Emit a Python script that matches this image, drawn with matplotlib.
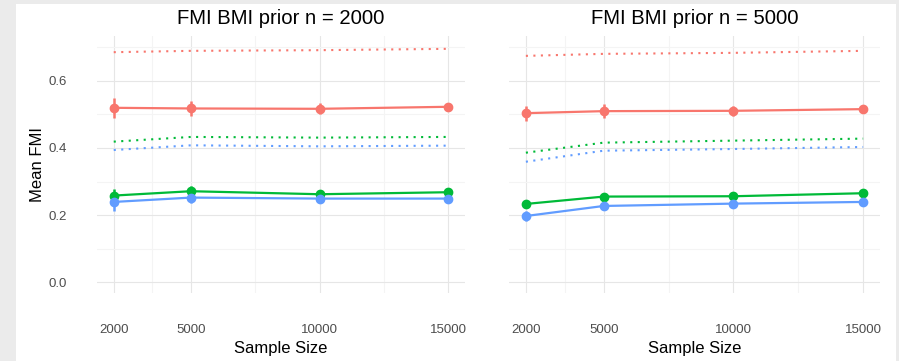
import matplotlib.pyplot as plt
from matplotlib.patches import Rectangle

plt.rcParams['font.family'] = ['Liberation Sans', 'DejaVu Sans']

sample_sizes = [2000, 5000, 10000, 15000]
panel_titles = ['FMI BMI prior n = 2000', 'FMI BMI prior n = 5000']

# solid lines (mean FMI with error bars)
red_solid = [[0.520, 0.518, 0.517, 0.523], [0.504, 0.510, 0.511, 0.516]]
red_err = [[0.029, 0.023, 0.016, 0.012], [0.022, 0.020, 0.014, 0.012]]
green_solid = [[0.258, 0.271, 0.262, 0.268], [0.233, 0.255, 0.256, 0.265]]
green_err = [[0.021, 0.015, 0.008, 0.007], [0.013, 0.008, 0.006, 0.006]]
blue_solid = [[0.239, 0.252, 0.249, 0.249], [0.197, 0.227, 0.234, 0.239]]
blue_err = [[0.026, 0.016, 0.010, 0.008], [0.016, 0.011, 0.008, 0.007]]

# dotted lines
red_dot = [[0.686, 0.690, 0.692, 0.696], [0.675, 0.681, 0.684, 0.690]]
green_dot = [[0.419, 0.433, 0.431, 0.433], [0.386, 0.416, 0.422, 0.428]]
blue_dot = [[0.394, 0.408, 0.405, 0.407], [0.359, 0.392, 0.397, 0.403]]

RED, GREEN, BLUE = '#F8766D', '#00BA38', '#619CFF'

W, H = 899, 361
fig = plt.figure(figsize=(W / 100, H / 100), dpi=100, facecolor='#ebebeb')
fig.patches.append(Rectangle((16 / W, 0), 880 / W, 357 / H, transform=fig.transFigure,
                             facecolor='white', edgecolor='none', zorder=-5))

ax_left = fig.add_axes([97 / W, (H - 293) / H, 368 / W, 257 / H])
ax_right = fig.add_axes([509 / W, (H - 293) / H, 371 / W, 257 / H])

for i, ax in enumerate([ax_left, ax_right]):
    ax.set_facecolor('none')
    for color, vals in [(RED, red_dot), (GREEN, green_dot), (BLUE, blue_dot)]:
        ax.plot(sample_sizes, vals[i], color=color, lw=1.5, linestyle=(0, (1.0, 2.6)),
                dash_capstyle='butt', zorder=3)
    for color, vals, err in [(RED, red_solid, red_err), (GREEN, green_solid, green_err),
                             (BLUE, blue_solid, blue_err)]:
        ax.errorbar(sample_sizes, vals[i], yerr=err[i], color=color, lw=1.6, elinewidth=1.8,
                    marker='o', ms=6, capsize=0, zorder=4)

    ax.set_xlim(1350, 15650)
    ax.set_ylim(-0.0328, 0.7343)
    ax.set_xticks(sample_sizes)
    ax.set_xticks([3500, 7500, 12500], minor=True)
    ax.set_yticks([0.0, 0.2, 0.4, 0.6])
    ax.set_yticks([0.1, 0.3, 0.5, 0.7], minor=True)
    ax.set_yticklabels(['0.0', '0.2', '0.4', '0.6'])
    ax.grid(True, which='major', color='#e6e6e6', lw=0.8, zorder=1)
    ax.grid(True, which='minor', color='#f4f4f4', lw=0.8, zorder=1)
    ax.set_axisbelow(True)
    for s in ax.spines.values():
        s.set_visible(False)
    ax.tick_params(which='both', length=0)
    ax.tick_params(axis='x', pad=22, labelsize=9.5, labelcolor='#4d4d4d')
    ax.tick_params(axis='y', pad=21.5, labelsize=9.5, labelcolor='#4d4d4d')
    ax.set_title(panel_titles[i], fontsize=14.6, pad=9)
    ax.set_xlabel('Sample Size', fontsize=12, labelpad=4)

ax_left.set_ylabel('Mean FMI', fontsize=12, labelpad=2.5)
ax_right.tick_params(axis='y', labelleft=False)

fig.savefig('out.png', dpi=100, facecolor=fig.get_facecolor())
